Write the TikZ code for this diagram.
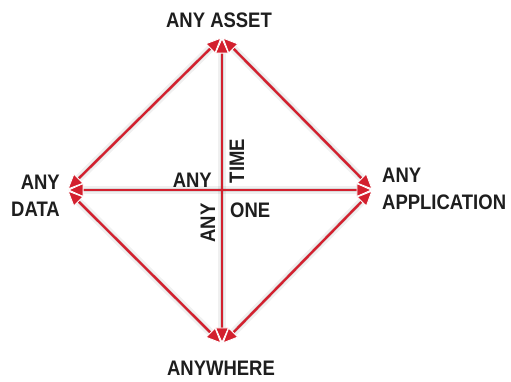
\documentclass[tikz,border=0pt]{standalone}
\usepackage{fontspec}
\setmainfont{Liberation Sans}[FakeStretch=0.88]
\usetikzlibrary{arrows.meta}
\definecolor{arrred}{HTML}{D3202E}
\definecolor{txt}{HTML}{1E1E1E}
\begin{document}
\begin{tikzpicture}[x=1pt,y=-1pt,
  lbl/.style={font=\bfseries\fontsize{21}{27}\selectfont, text=txt, inner sep=0pt},
  link/.style={draw=arrred, line width=2.4pt, {Triangle[length=16pt,width=14pt,line width=0.9pt,color=white,fill=arrred]}-{Triangle[length=16pt,width=14pt,line width=0.9pt,color=white,fill=arrred]}, shorten <=0.5pt, shorten >=0.5pt},
  shad/.style={draw=black, line width=8pt, draw opacity=0.06, line cap=round, shorten <=10pt, shorten >=10pt},
  shadb/.style={draw=black, line width=3.5pt, draw opacity=0.09, line cap=round, shorten <=10pt, shorten >=10pt}]
\useasboundingbox (0,0) rectangle (511,381);
\fill[white] (0,0) rectangle (511,381);

\coordinate (T) at (222,37);
\coordinate (L) at (67,190);
\coordinate (R) at (373,190);
\coordinate (B) at (222,344);

% shadows
\begin{scope}[shift={(3,5)}]
  \foreach \a/\b in {T/L,T/R,L/B,R/B,T/B,L/R}{
    \draw[shad] (\a) -- (\b);
    \draw[shadb] (\a) -- (\b);
  }
\end{scope}

% connectors
\draw[link] (T) -- (L);
\draw[link] (T) -- (R);
\draw[link] (L) -- (B);
\draw[link] (R) -- (B);
\draw[link] (L) -- (R);
\draw[link] (T) -- (B);

% labels
\node[lbl, anchor=base] (asset) at (219,27) {ANY ASSET};
\node[lbl, anchor=north east, align=right] (data) at (60,175) {ANY\\DATA};
\node[lbl, anchor=north west, align=left] (app) at (382,168) {ANY\\APPLICATION};
\node[lbl, anchor=base] (where) at (221,375) {ANYWHERE};
\node[lbl, anchor=base east] (anyh) at (212,187) {ANY};
\node[lbl, rotate=90] (time) at (237,161) {TIME};
\node[lbl, anchor=base west] (one) at (230,217) {ONE};
\node[lbl, rotate=90] (anyv) at (208,223) {ANY};
\end{tikzpicture}
\end{document}
